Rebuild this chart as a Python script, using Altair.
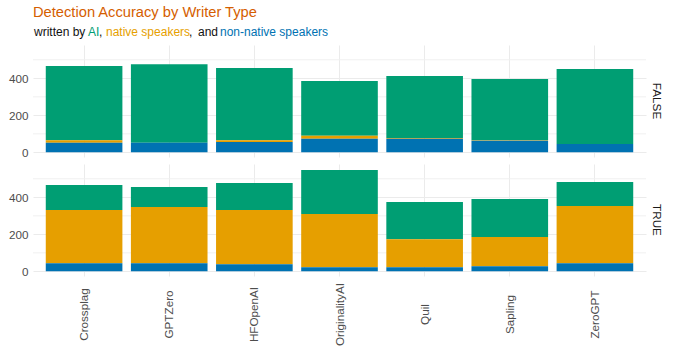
import altair as alt
import pandas as pd

# ---------------- data ----------------
detectors = ["Crossplag", "GPTZero", "HFOpenAI", "OriginalityAI", "Quil", "Sapling", "ZeroGPT"]
writers = ["AI", "native speakers", "non-native speakers"]
writer_colors = ["#009E73", "#E69F00", "#0072B2"]
stack_order = [2, 1, 0]  # non-native at the bottom, AI on top
panel_labels = ["FALSE", "TRUE"]

false_ai = [400, 424, 390, 295, 335, 330, 405]
false_native = [14, 0, 10, 16, 3, 3, 0]
false_nonnative = [52, 52, 56, 74, 74, 63, 45]

true_ai = [136, 108, 147, 238, 201, 206, 130]
true_native = [287, 304, 293, 288, 152, 158, 309]
true_nonnative = [44, 44, 38, 22, 22, 27, 44]

y_major = [0, 200, 400]
y_minor = [100, 300, 500]

title_text = "Detection Accuracy by Writer Type"
sub_text = ["written by", "AI", ",", "native speakers", ",", "and", "non-native speakers"]
sub_color = ["#111111", "#009E73", "#111111", "#E69F00", "#111111", "#111111", "#0072B2"]
sub_x = [1, 55, 66, 73, 156, 165, 187]


def build(panel, ai, nat, nonnat):
    rows = []
    for i, d in enumerate(detectors):
        for w, v, o in zip(writers, [ai[i], nat[i], nonnat[i]], stack_order):
            rows.append({"detector": d, "writer": w, "value": v, "ord": o, "panel": panel})
    return pd.DataFrame(rows)


df_false = build(panel_labels[0], false_ai, false_native, false_nonnative)
df_true = build(panel_labels[1], true_ai, true_native, true_nonnative)

W, H = 613, 112
FONT = "Liberation Sans"
ydom = [-25, 580]


def panel_chart(df, label, show_x_labels, header=False):
    xaxis = alt.Axis(
        title=None, ticks=False, domain=False, grid=True, bandPosition=0.5,
        labels=show_x_labels, labelAngle=270, labelAlign="center", labelBaseline="middle",
        labelPadding=38, labelFontSize=11.7, labelColor="#4D4D4D", labelFont=FONT,
    )
    bars = alt.Chart(df).mark_bar().encode(
        x=alt.X("detector:N", sort=detectors,
                scale=alt.Scale(domain=detectors, paddingInner=0.1, paddingOuter=0.15),
                axis=xaxis),
        y=alt.Y("value:Q", stack="zero",
                scale=alt.Scale(domain=ydom, nice=False, zero=False),
                axis=alt.Axis(title=None, values=y_major, ticks=False, domain=False,
                              grid=True, labelPadding=5, labelFontSize=11.7,
                              labelColor="#4D4D4D", labelFont=FONT)),
        color=alt.Color("writer:N", scale=alt.Scale(domain=writers, range=writer_colors), legend=None),
        order=alt.Order("ord:Q", sort="ascending"),
    )
    minor = alt.Chart(pd.DataFrame({"value": y_minor})).mark_rule(
        color="#F0F0F0", strokeWidth=1
    ).encode(y=alt.Y("value:Q"))
    strip = alt.Chart(pd.DataFrame({"lab": [label]})).mark_text(
        angle=90, fontSize=11.7, font=FONT, color="#1A1A1A", align="center", baseline="middle"
    ).encode(x=alt.value(W + 11), y=alt.value(H / 2), text="lab:N")
    layers = [minor, bars, strip]
    if header:
        anchor = alt.Chart(pd.DataFrame({"a": [0]})).mark_rule(
            color="white", strokeWidth=1
        ).encode(x=alt.value(-32.5), y=alt.value(-44.5), y2=alt.value(0))
        anchor_r = alt.Chart(pd.DataFrame({"a": [0]})).mark_rule(
            color="white", strokeWidth=1
        ).encode(x=alt.value(642.5), y=alt.value(-44.5), y2=alt.value(0))
        ttl = alt.Chart(pd.DataFrame({"t": [title_text]})).mark_text(
            align="left", baseline="alphabetic", fontSize=14.7, font=FONT, color="#D55E00"
        ).encode(x=alt.value(0), y=alt.value(-28.5), text="t:N")
        sub = alt.Chart(pd.DataFrame({"t": sub_text, "c": sub_color, "x": sub_x})).mark_text(
            align="left", baseline="alphabetic", fontSize=12, font=FONT
        ).encode(x=alt.X("x:Q", scale=None), y=alt.value(-9.5), text="t:N",
                 color=alt.Color("c:N", scale=None))
        layers = [anchor, anchor_r] + layers + [ttl, sub]
    return alt.layer(*layers).properties(width=W, height=H)


top = panel_chart(df_false, panel_labels[0], False, header=True)
bottom = panel_chart(df_true, panel_labels[1], True)

chart = alt.vconcat(top, bottom, spacing=7, bounds="flush").properties(
    padding=0
).configure(
    background="white", font=FONT
).configure_view(stroke=None).configure_axis(gridColor="#EBEBEB", gridWidth=1)

chart.save("out.html", embed_options={"renderer": "svg", "actions": False})
